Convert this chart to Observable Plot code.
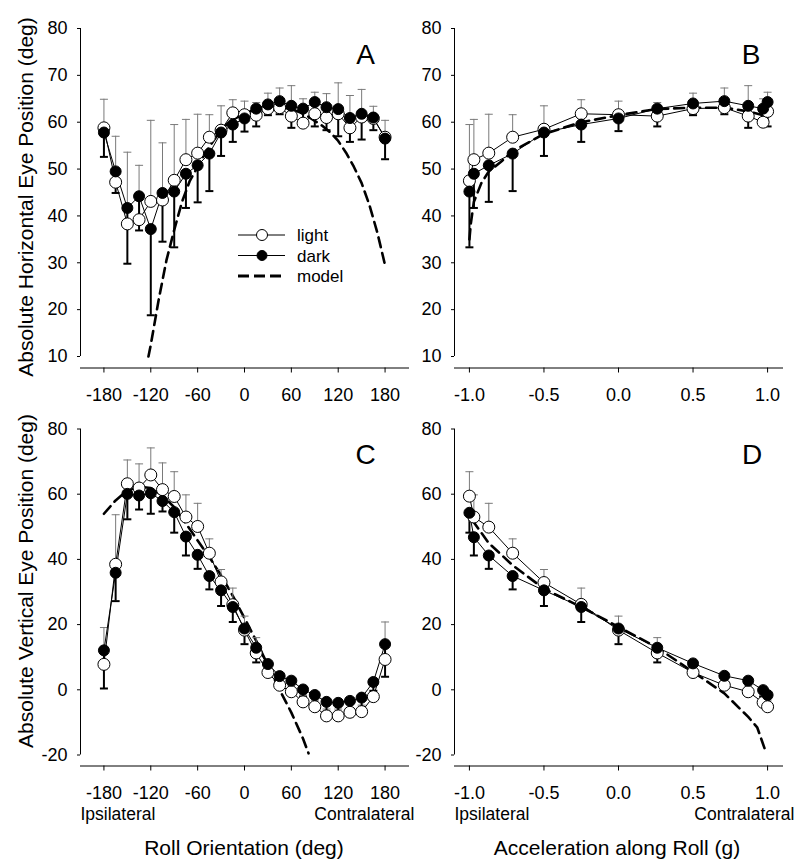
<!DOCTYPE html>
<html>
<head>
<meta charset="utf-8">
<script src="https://cdn.jsdelivr.net/npm/d3@7"></script>
<script src="https://cdn.jsdelivr.net/npm/@observablehq/plot@0.6"></script>
<style>
  body { margin: 0; background: #fff; font-family: "Liberation Sans", Arial, sans-serif; color: #000; }
  #fig { position: relative; width: 800px; height: 866px; overflow: hidden; }
  #fig svg { position: absolute; }
  .title { position: absolute; font-size: 21px; line-height: 1; white-space: nowrap; transform: translate(-50%, -50%); }
  .title.rot { transform: translate(-50%, -50%) rotate(-90deg); }
</style>
</head>
<body>
<div id="fig"></div>
<script>
// ---------- categories / ticks ----------
const rollAngles = [-180,-165,-150,-135,-120,-105,-90,-75,-60,-45,-30,-15,0,15,30,45,60,75,90,105,120,135,150,165,180];
const accelValues = [-1.0,-0.97,-0.87,-0.71,-0.5,-0.25,0,0.26,0.5,0.71,0.87,0.97,1.0];
const rollTicks = [-180,-120,-60,0,60,120,180];
const accelTicks = [-1.0,-0.5,0,0.5,1.0];
const horizTicks = [10,20,30,40,50,60,70,80];
const vertTicks = [-20,0,20,40,60,80];

// ---------- Panel A: horizontal eye position vs roll ----------
const aLight    = [58.8,47.2,38.3,39.2,43.1,43.4,47.6,52.0,53.4,56.8,58.3,62.0,61.6,61.5,62.9,63.1,61.3,59.8,61.8,61.0,61.8,58.8,61.1,60.8,56.8];
const aLightErr = [64.9,57.0,53.6,50.8,60.4,55.6,59.5,60.6,61.7,61.6,63.5,64.8,64.5,64.2,66.2,67.3,67.8,65.0,66.4,66.1,68.4,65.7,67.0,63.4,60.4];
const aDark     = [57.8,49.5,41.7,44.2,37.2,44.9,45.2,49.0,50.8,53.3,57.8,59.5,60.8,62.9,63.8,64.5,63.5,62.9,64.3,63.2,62.8,60.9,61.8,61.0,56.5];
const aDarkErr  = [52.6,44.9,29.8,36.9,18.8,34.5,33.3,41.7,42.9,45.3,52.8,55.8,58.0,59.1,61.5,61.7,58.8,60.0,59.1,58.3,57.0,55.8,56.3,58.3,52.1];
const aModelX   = [-123,-120,-110,-100,-90,-80,-70,-60,-50,-40,-30,-20,-10,0,10,20,30,40,50,60,70,80,90,100,110,120,130,140,150,160,170,180];
const aModelY   = [10,12.5,22,30.5,37,43,47.5,50.5,53.5,56,58.3,60,61,61.8,62.5,63,63.2,63.3,63.1,62.8,62.2,61.4,60.3,59.2,57.8,56,53.5,50.5,47,42.3,36.5,29.5];

// ---------- Panel B: horizontal eye position vs acceleration ----------
const bLight    = [47.5,52.0,53.4,56.8,58.5,61.8,61.6,61.3,62.9,63.1,61.3,60.0,62.3];
const bLightErr = [59.5,60.6,61.7,61.6,63.5,64.8,64.5,64.2,66.2,67.3,67.8,65.0,66.4];
const bDark     = [45.2,49.0,50.8,53.3,57.8,59.5,60.8,62.9,64.0,64.5,63.5,62.9,64.3];
const bDarkErr  = [33.3,41.7,43.0,45.3,52.8,55.8,58.1,59.1,61.5,61.7,58.8,60.0,59.1];
const bModelX   = [-1.0,-0.99,-0.97,-0.92,-0.87,-0.79,-0.71,-0.5,-0.25,0,0.25,0.5,0.71,0.87,0.97,1.0];
const bModelY   = [35,38.5,43,47,49.5,51.5,53.8,57.5,60,61.5,62.8,63.1,63.1,62.3,61.5,61];

// ---------- Panel C: vertical eye position vs roll ----------
const cLight    = [7.8,38.5,63.2,61.9,65.9,61.4,59.3,53.0,50.1,41.9,33.1,26.1,18.3,11.3,5.3,1.4,-0.6,-3.7,-5.2,-8.0,-8.0,-6.9,-6.7,-2.1,9.3];
const cLightErr = [19.1,53.7,70.5,69.3,74.2,69.6,66.9,59.8,57.2,46.3,36.9,31.2,22.6,16.0,7.5,3.5,1.4,-1.6,-3.2,-5.9,-5.9,-5.5,-4.7,1.7,20.8];
const cDark     = [12.1,35.9,60.1,59.6,60.3,57.9,54.5,47.0,41.4,34.9,30.5,25.4,18.8,12.9,7.9,4.2,2.8,0.1,-1.6,-3.7,-4.0,-3.4,-2.4,2.4,14.0];
const cDarkErr  = [0.4,27.2,52.3,55.3,54.0,54.7,48.2,41.2,37.1,30.8,25.7,20.8,14.0,8.4,5.5,1.1,0.4,-2.1,-4.2,-6.7,-7.6,-8.1,-6.9,-0.3,4.0];
const cModelX   = [-180,-165,-150,-135,-120,-105,-90,-75,-60,-45,-30,-15,0,15,30,45,60,75,82];
const cModelY   = [54.0,58.1,61.1,62.3,61.9,59.6,56.0,51.0,45.8,40.7,35.1,28.8,22.0,15.0,7.5,0,-7,-15,-19.5];

// ---------- Panel D: vertical eye position vs acceleration ----------
const dLight    = [59.4,53.0,49.9,41.9,32.9,26.2,18.3,11.3,5.3,1.4,-0.6,-3.9,-5.2];
const dLightErr = [66.9,59.8,57.2,46.3,36.9,31.2,22.6,16.0,7.0,3.5,1.4,-1.6,-3.2];
const dDark     = [54.3,46.8,41.2,34.9,30.5,25.4,18.8,12.9,8.1,4.3,2.8,-0.1,-1.6];
const dDarkErr  = [48.2,41.2,37.1,30.8,25.7,20.8,14.0,8.4,5.0,1.1,0.4,-2.1,-4.2];
const dModelX   = [-0.98,-0.87,-0.71,-0.5,-0.25,0,0.25,0.5,0.71,0.87,0.93,0.96,0.98,0.99];
const dModelY   = [52,45,38.2,31,25.4,19.3,13.2,5.5,-1.1,-8.3,-11.5,-15.4,-18,-19.5];

// ---------- drawing ----------
const FONT = "'Liberation Sans', Arial, Helvetica, sans-serif";
const capSymbol = { draw(ctx) { ctx.moveTo(-4, 0); ctx.lineTo(4, 0); } };
const fig = document.getElementById("fig");

function panel(o) {
  const pts = o.xs.map((x, i) => ({ x, light: o.light[i], le: o.lightErr[i], dark: o.dark[i], de: o.darkErr[i] }));
  const model = o.modelX.map((x, i) => ({ x, y: o.modelY[i] }));
  const W = 415, H = 405;
  const marks = [
    Plot.frame({ anchor: "bottom", stroke: "black", strokeWidth: 1 }),
    Plot.ruleX([o.xDomain[0]], { y1: o.yDomain[0], y2: o.yDomain[1], stroke: "black", strokeWidth: 1 }),
    Plot.axisY({ ticks: o.yTicks, tickSize: 3, tickPadding: 10, tickFormat: d => String(d), fontSize: 18, label: null }),
    Plot.axisX({ ticks: o.xTicks, tickSize: 5, tickPadding: 15, tickFormat: o.xFmt, fontSize: 18, label: null }),
    Plot.line(model, { x: "x", y: "y", stroke: "black", strokeWidth: 2.6, strokeDasharray: "10,6" }),
    Plot.ruleX(pts, { x: "x", y1: "light", y2: "le", stroke: "#7a7a7a", strokeWidth: 1 }),
    Plot.dot(pts, { x: "x", y: "le", symbol: capSymbol, fill: "none", stroke: "#7a7a7a", strokeWidth: 1 }),
    Plot.ruleX(pts, { x: "x", y1: "dark", y2: "de", stroke: "black", strokeWidth: 2 }),
    Plot.dot(pts, { x: "x", y: "de", symbol: capSymbol, fill: "none", stroke: "black", strokeWidth: 2 }),
    Plot.line(pts, { x: "x", y: "light", stroke: "black", strokeWidth: 1 }),
    Plot.line(pts, { x: "x", y: "dark", stroke: "black", strokeWidth: 1 }),
    Plot.dot(pts, { x: "x", y: "light", r: 6, fill: "white", stroke: "black", strokeWidth: 1 }),
    Plot.dot(pts, { x: "x", y: "dark", r: 5.5, fill: "black", stroke: "black", strokeWidth: 1 }),
    Plot.text([o.letter], { text: d => d, frameAnchor: "top-right", textAnchor: "middle", dx: o.letterDx, dy: o.letterDy, fontSize: 28 })
  ];
  if (o.sides) {
    marks.push(Plot.text(["Ipsilateral"], { text: d => d, frameAnchor: "bottom-left", textAnchor: "start", dy: 54, fontSize: 17.5 }));
    marks.push(Plot.text(["Contralateral"], { text: d => d, frameAnchor: "bottom-right", textAnchor: "end", dx: o.contraDx, dy: 54, fontSize: 17.5 }));
  }
  const svg = Plot.plot({
    width: W, height: H,
    marginLeft: 80, marginRight: 7, marginTop: o.yRange[1], marginBottom: o.mb,
    x: { domain: o.xDomain, range: [80, W - 7] },
    y: { domain: o.yDomain, range: o.yRange },
    style: { fontFamily: FONT, fontSize: "18px", background: "transparent", overflow: "visible", color: "black" },
    marks
  });
  svg.style.left = o.left + "px";
  svg.style.top = o.top + "px";
  fig.appendChild(svg);
}

const fmtRoll = d => String(d);
const fmtAcc = d => d.toFixed(1);

panel({ xs: rollAngles, light: aLight, lightErr: aLightErr, dark: aDark, darkErr: aDarkErr, modelX: aModelX, modelY: aModelY,
  xDomain: [-210, 210], xTicks: rollTicks, xFmt: fmtRoll, yDomain: [10, 80], yTicks: horizTicks, yRange: [356, 28], mb: 37.5,
  letter: "A", letterDx: -43, letterDy: 16, left: 0, top: 0 });
panel({ xs: accelValues, light: bLight, lightErr: bLightErr, dark: bDark, darkErr: bDarkErr, modelX: bModelX, modelY: bModelY,
  xDomain: [-1.1, 1.1], xTicks: accelTicks, xFmt: fmtAcc, yDomain: [10, 80], yTicks: horizTicks, yRange: [356, 28], mb: 37.5,
  letter: "B", letterDx: -31.5, letterDy: 16, left: 374, top: 0 });
panel({ xs: rollAngles, light: cLight, lightErr: cLightErr, dark: cDark, darkErr: cDarkErr, modelX: cModelX, modelY: cModelY,
  xDomain: [-210, 210], xTicks: rollTicks, xFmt: fmtRoll, yDomain: [-20, 80], yTicks: vertTicks, yRange: [354.5, 28.5], mb: 39.5,
  letter: "C", letterDx: -43, letterDy: 15.5, left: 0, top: 400, sides: true, contraDx: 6 });
panel({ xs: accelValues, light: dLight, lightErr: dLightErr, dark: dDark, darkErr: dDarkErr, modelX: dModelX, modelY: dModelY,
  xDomain: [-1.1, 1.1], xTicks: accelTicks, xFmt: fmtAcc, yDomain: [-20, 80], yTicks: vertTicks, yRange: [354.5, 28.5], mb: 39.5,
  letter: "D", letterDx: -30.3, letterDy: 15.5, left: 374, top: 400, sides: true, contraDx: 12 });

// ---------- legend (panel A) ----------
const legendItems = ["light", "dark", "model"];
const ns = "http://www.w3.org/2000/svg";
const leg = document.createElementNS(ns, "svg");
leg.setAttribute("width", 120); leg.setAttribute("height", 66);
leg.style.left = "230px"; leg.style.top = "222px"; leg.style.overflow = "visible";
legendItems.forEach((name, i) => {
  const y = 13 + i * 20.5;
  const ln = document.createElementNS(ns, "line");
  ln.setAttribute("x1", 8); ln.setAttribute("x2", 55); ln.setAttribute("y1", y); ln.setAttribute("y2", y);
  ln.setAttribute("stroke", "black");
  if (name === "model") { ln.setAttribute("stroke-width", 3); ln.setAttribute("stroke-dasharray", "11,5"); }
  else ln.setAttribute("stroke-width", 1);
  leg.appendChild(ln);
  if (name !== "model") {
    const c = document.createElementNS(ns, "circle");
    c.setAttribute("cx", 32); c.setAttribute("cy", y); c.setAttribute("r", name === "light" ? 5.5 : 5);
    c.setAttribute("fill", name === "light" ? "white" : "black"); c.setAttribute("stroke", "black");
    leg.appendChild(c);
  }
  const t = document.createElementNS(ns, "text");
  t.setAttribute("x", 67); t.setAttribute("y", y + 6);
  t.setAttribute("font-family", FONT); t.setAttribute("font-size", 17);
  t.textContent = name;
  leg.appendChild(t);
});
fig.appendChild(leg);

// ---------- axis titles ----------
const titles = [
  { text: "Absolute Horizontal Eye Position (deg)", x: 25, y: 197, rot: true },
  { text: "Absolute Vertical Eye Position (deg)", x: 25, y: 581, rot: true },
  { text: "Roll Orientation (deg)", x: 244, y: 847, rot: false },
  { text: "Acceleration along Roll (g)", x: 617, y: 847, rot: false }
];
titles.forEach(t => {
  const d = document.createElement("div");
  d.className = "title" + (t.rot ? " rot" : "");
  d.style.left = t.x + "px"; d.style.top = t.y + "px";
  d.textContent = t.text;
  fig.appendChild(d);
});
</script>
</body>
</html>
